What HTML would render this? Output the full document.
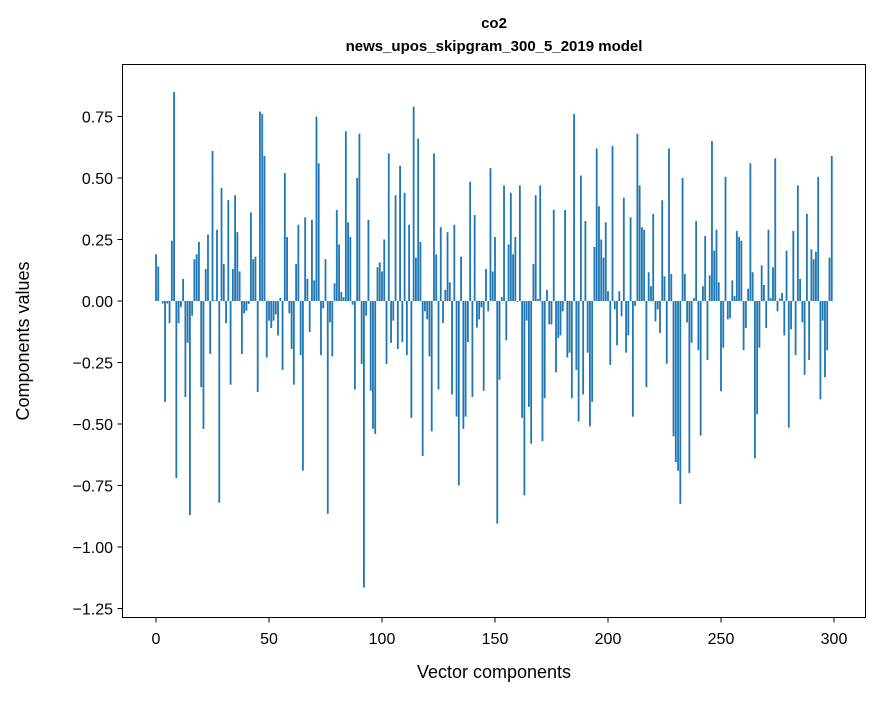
<!DOCTYPE html>
<html><head><meta charset="utf-8"><style>
body{margin:0;background:#fff;}
svg text{font-family:"Liberation Sans","DejaVu Sans",sans-serif;fill:#000;}
</style></head><body>
<svg id="chart" width="880" height="696" viewBox="0 0 880 696" xmlns="http://www.w3.org/2000/svg">
<rect width="880" height="696" fill="#fff"/>
<text x="494" y="28" text-anchor="middle" font-size="15" font-weight="bold">co2</text>
<text x="494" y="51" text-anchor="middle" font-size="15" font-weight="bold">news_upos_skipgram_300_5_2019 model</text>
<g id="bars"></g>
<rect x="122.5" y="64.5" width="743" height="553" fill="none" stroke="#000" stroke-width="1"/>
<g id="yticks"></g>
<g id="xticks"></g>
<text x="494" y="678" text-anchor="middle" font-size="18">Vector components</text>
<text transform="translate(29,341) rotate(-90)" text-anchor="middle" font-size="18">Components values</text>
</svg>
<script>
const values0 = [0.19,0.14,0,-0.01,-0.41,-0.01,-0.09,0.245,0.85,-0.72,-0.09,-0.025,0.09,-0.39,-0.17,-0.87,-0.06,0.17,0.19,0.24,-0.35,-0.52,0.13,0.27];
const values1 = [-0.215,0.61,0.003,0.29,-0.82,0.46,0.15,-0.09,0.41,-0.34,0.13,0.43,0.28,0.12,-0.215,-0.05,-0.04,-0.012,0.36,0.17,0.18,-0.37,0.77,0.76,0.59,-0.23];
const values2 = [-0.08,-0.11,-0.08,-0.055,-0.14,0.012,-0.28,0.52,0.26,-0.05,-0.195,-0.34,0.15,0.31,-0.22,-0.69,0.34,0.09,-0.126,0.33,0.084,0.75,0.56,-0.22,-0.03];
const values3 = [0.17,-0.865,-0.087,-0.225,0.072,0.37,0.23,0.037,0.016,0.69,0.32,0.26,-0.015,-0.36,0.5,0.68,-0.256,-1.165,-0.06,0.33,-0.365,-0.52,-0.54,0.137,0.157];
const values4 = [0.12,0.25,-0.256,0.6,-0.17,-0.08,0.43,-0.195,0.55,-0.167,0.44,-0.22,0.31,-0.475,0.79,0.176,0.66,0.24,-0.63,-0.042,-0.075,-0.225,-0.53,0.6,0.19];
const values5 = [-0.36,0.3,-0.09,0.045,0.28,0.076,-0.38,0.31,-0.47,-0.75,0.18,-0.52,-0.47,-0.167,0.485,-0.39,0.35,-0.108,-0.075,-0.026,-0.365,0.13,-0.042,0.54,0.12,0.26];
const values6 = [-0.905,-0.32,0.016,0.47,-0.16,0.23,0.44,0.19,0.26,-0.004,0.47,-0.475,-0.79,-0.08,-0.43,-0.58,0.15,0.43,0.008,0.47,-0.57,-0.395,0.045,-0.095,-0.095];
const values7 = [0.37,-0.29,-0.15,-0.14,-0.042,0.37,-0.23,-0.21,-0.395,0.76,-0.28,-0.49,0.51,-0.38,0.325,-0.21,-0.51,-0.41,0.22,0.62,0.385,0.25,0.176,0.32,0.04];
const values8 = [-0.26,0.63,-0.034,-0.18,0.04,-0.062,0.42,-0.21,-0.14,0.34,-0.47,-0.02,0.68,0.47,0.3,0.29,-0.35,0.117,0.06,0.354,-0.083,-0.034,-0.13,0.41,0.1];
const values9 = [-0.255,0.62,0.11,-0.55,-0.655,-0.69,-0.825,0.5,0.11,-0.087,-0.7,-0.17,0.012,0.325,-0.2,-0.547,0.06,0.264,-0.24,0.104,0.65,0.205,0.29,0.076,-0.367,-0.19];
const values10 = [0.505,-0.075,-0.07,0.084,0.02,0.285,0.26,0.245,-0.2,-0.11,0.05,0.56,0.117,-0.64,-0.46,-0.19,0.145,0.065,-0.11,0.29,0.012,0.137,0.58,-0.042];
const values11 = [0.01,0.033,-0.14,0.205,-0.515,-0.115,0.285,-0.22,0.47,0.09,-0.087,-0.3,0.354,-0.24,0.21,0.17,0.2,0.505,-0.4,-0.08,-0.31,-0.2,0.176,0.59];
const values = [].concat(values0,values1,values2,values3,values4,values5,values6,values7,values8,values9,values10,values11);
const yTickValues = [0.75,0.5,0.25,0,-0.25,-0.5,-0.75,-1,-1.25];
const yTickLabels = ["0.75","0.50","0.25","0.00","\u22120.25","\u22120.50","\u22120.75","\u22121.00","\u22121.25"];
const xTickValues = [0,50,100,150,200,250,300];
const xTickLabels = ["0","50","100","150","200","250","300"];

const NS = "http://www.w3.org/2000/svg";
function xScale(i){ return 156 + 2.26*i; }
function yScale(v){ return 301 - 246*v; }
const barW = 0.8*2.26;
const gb = document.getElementById('bars');
values.forEach(function(v,i){
  const r = document.createElementNS(NS,'rect');
  const y0 = yScale(0), y1 = yScale(v);
  r.setAttribute('x', xScale(i)-barW/2);
  r.setAttribute('y', Math.min(y0,y1));
  r.setAttribute('width', barW);
  r.setAttribute('height', Math.max(Math.abs(y1-y0),0.01));
  r.setAttribute('fill','#1f77b4');
  
  
  gb.appendChild(r);
});
const gy = document.getElementById('yticks');
yTickValues.forEach(function(v,k){
  const y = yScale(v);
  const l = document.createElementNS(NS,'line');
  l.setAttribute('x1',117.5); l.setAttribute('x2',122.5);
  l.setAttribute('y1',y); l.setAttribute('y2',y);
  l.setAttribute('stroke','#000');
  
  
  gy.appendChild(l);
  const t = document.createElementNS(NS,'text');
  t.setAttribute('x',113); t.setAttribute('y',y+6);
  t.setAttribute('text-anchor','end'); t.setAttribute('font-size','16');
  t.textContent = yTickLabels[k];
  
  
  gy.appendChild(t);
});
const gx = document.getElementById('xticks');
xTickValues.forEach(function(v,k){
  const x = xScale(v);
  const l = document.createElementNS(NS,'line');
  l.setAttribute('x1',x); l.setAttribute('x2',x);
  l.setAttribute('y1',617.5); l.setAttribute('y2',622.5);
  l.setAttribute('stroke','#000');
  
  
  gx.appendChild(l);
  const t = document.createElementNS(NS,'text');
  t.setAttribute('x',x); t.setAttribute('y',644);
  t.setAttribute('text-anchor','middle'); t.setAttribute('font-size','16');
  t.textContent = xTickLabels[k];
  
  
  gx.appendChild(t);
});
</script>
</body></html>
